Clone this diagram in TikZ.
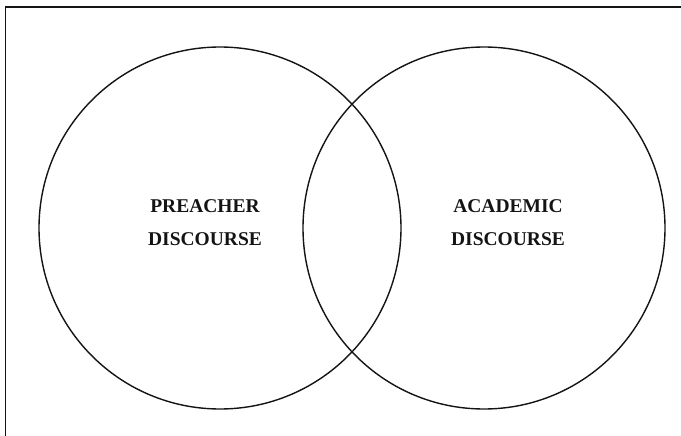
\documentclass[tikz,border=0pt]{standalone}
\usepackage{fontspec}
\setmainfont{Liberation Serif}
\usepackage{xcolor}
\usetikzlibrary{positioning}
\definecolor{primary}{RGB}{20,20,20}
\tikzset{
  field/.style={draw=primary,circle,line width=1.4pt,minimum size=362pt,inner sep=0pt},
  label/.style={font=\fontsize{19.5}{33}\selectfont\bfseries,text=primary,align=center}
}
\begin{document}
\begin{tikzpicture}[x=1pt,y=-1pt]

    % Frame
    \useasboundingbox (0,0) rectangle (681,436);
    \coordinate (topleft) at (5,7);
    \coordinate (topright) at (681,7);
    \coordinate (bottomleft) at (5,436);
    \draw[primary,line width=1.4pt] (topright) -- (topleft);
    \draw[primary,line width=0.9pt] (topleft) -- (bottomleft);

    % Overlapping fields
    \node[field] (preacher) at (220,228) {};
    \node[field] (academic) at (484,228) {};

    % Labels
    \node[label] (preacherlbl) at (205,223) {PREACHER\\DISCOURSE};
    \node[label] (academiclbl) at (508,223) {ACADEMIC\\DISCOURSE};

\end{tikzpicture}
\end{document}
